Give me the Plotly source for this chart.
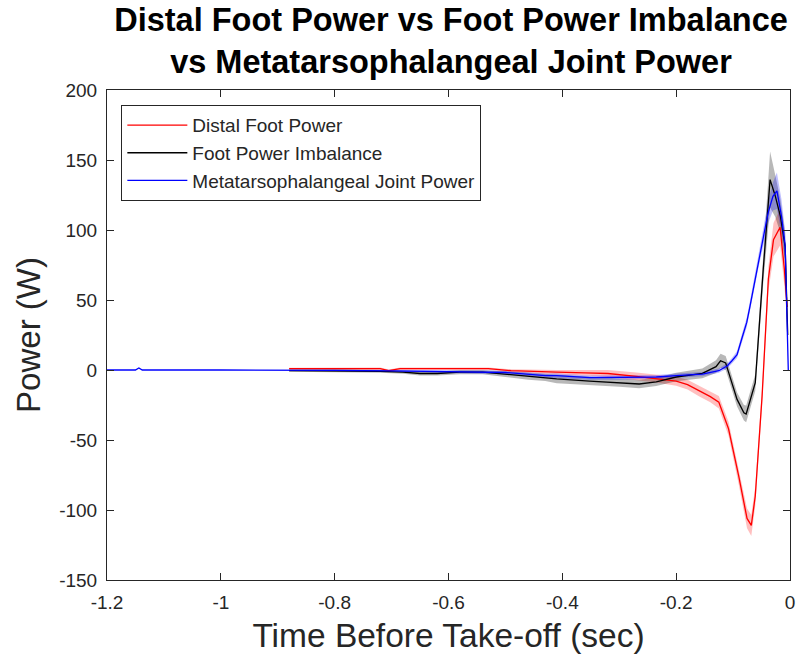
import plotly.graph_objects as go

# ---------------- data ----------------
t_red = [-0.88, -0.80, -0.72, -0.705, -0.685, -0.60, -0.53, -0.49, -0.45, -0.41, -0.36, -0.32,
         -0.27, -0.235, -0.20, -0.18, -0.16, -0.14, -0.125, -0.108, -0.090, -0.0755, -0.068,
         -0.061, -0.049, -0.038, -0.029, -0.0174, -0.0099, -0.005]
distal = [1, 1, 1, -0.5, 1, 1, 1, -0.5, -1.2, -1.5, -2, -2.5,
          -4.5, -6, -8, -10.5, -15, -19, -23, -42, -76, -106, -111,
          -90, -18.5, 65, 93, 102, 72, 45]
distal_sd = [0.6, 0.8, 0.8, 0.8, 0.8, 0.8, 0.8, 1, 1.2, 1.5, 2, 2.5,
             2.8, 3, 3.2, 3.5, 3.8, 4, 4.5, 5, 6, 7, 7.5,
             7, 6, 9, 12, 13, 12, 10]

t_blk = [-0.88, -0.80, -0.72, -0.68, -0.65, -0.62, -0.58, -0.54, -0.50, -0.46, -0.43, -0.41,
         -0.352, -0.30, -0.265, -0.235, -0.20, -0.154, -0.13, -0.122, -0.113, -0.108, -0.093,
         -0.081, -0.077, -0.071, -0.061, -0.047, -0.035, -0.026, -0.017, -0.0085, -0.004]
imbalance = [-0.5, -0.5, -1, -1.5, -2.5, -2.5, -1.5, -1.5, -3, -4.5, -5.4, -6.4,
             -8, -9, -10, -8.5, -5, -2.4, 2.4, 6.6, 5, -1.5, -21,
             -30.5, -31.4, -23, -9, 72, 136, 124.5, 110, 88, 25]
imbalance_sd = [0.8, 1, 1, 1.2, 1.5, 1.5, 1.5, 1.5, 2, 2.5, 2.5, 3,
                3, 3, 3, 3, 3, 3.5, 4.5, 5, 5, 5, 5,
                5.5, 6, 6, 6, 10, 20, 15, 12, 10, 8]

t_blue = [-1.2, -1.15, -1.144, -1.138, -1.0, -0.9, -0.8, -0.7, -0.6, -0.5, -0.43, -0.41,
          -0.352, -0.30, -0.265, -0.235, -0.20, -0.154, -0.125, -0.11, -0.102, -0.093, -0.085,
          -0.076, -0.071, -0.066, -0.061, -0.056, -0.051, -0.047, -0.042, -0.038, -0.030,
          -0.023, -0.015, -0.0085, -0.0058, -0.003]
mtp = [0, 0, 1.5, 0, 0, 0, -0.3, -0.6, -1, -1.8, -4, -4,
       -5.5, -5.5, -5, -5, -4, -3, -0.5, 3, 6.6, 11, 22,
       34, 44, 55, 66, 77, 87, 96, 105, 113, 124,
       128, 110, 89, 53, 0]
mtp_sd = [0, 0, 0, 0, 0, 0.3, 0.5, 0.7, 1, 1.2, 1.5, 1.5,
          1.5, 1.5, 1.5, 1.5, 1.5, 1.5, 1.5, 2, 2, 2.5, 3,
          3.5, 3.8, 4, 4.5, 5, 5.5, 6, 7, 8, 10,
          13, 12, 10, 8, 5]

series = [
    ("Distal Foot Power", t_red, distal, distal_sd, "rgb(255,0,0)", "rgba(255,0,0,0.25)"),
    ("Foot Power Imbalance", t_blk, imbalance, imbalance_sd, "rgb(0,0,0)", "rgba(0,0,0,0.28)"),
    ("Metatarsophalangeal Joint Power", t_blue, mtp, mtp_sd, "rgb(0,0,255)", "rgba(0,0,255,0.25)"),
]

x_ticks = [-1.2, -1, -0.8, -0.6, -0.4, -0.2, 0]
x_ticktext = ["-1.2", "-1", "-0.8", "-0.6", "-0.4", "-0.2", "0"]
y_ticks = [-150, -100, -50, 0, 50, 100, 150, 200]
y_ticktext = ["-150", "-100", "-50", "0", "50", "100", "150", "200"]

FONT = "Liberation Sans, Arial"

# ---------------- figure ----------------
fig = go.Figure()

# shaded bands first
for name, t, v, sd, col, fcol in series:
    upper = [a + b for a, b in zip(v, sd)]
    lower = [a - b for a, b in zip(v, sd)]
    fig.add_trace(go.Scatter(
        x=list(t) + list(t)[::-1], y=upper + lower[::-1],
        fill="toself", fillcolor=fcol, line=dict(width=0),
        mode="lines", hoverinfo="skip", showlegend=False))

for name, t, v, sd, col, fcol in series:
    fig.add_trace(go.Scatter(x=t, y=v, mode="lines", name=name,
                             line=dict(color=col, width=1.3)))

axis_common = dict(
    showgrid=False, zeroline=False, showline=True, linecolor="#262626", linewidth=1,
    mirror="allticks", ticks="inside", ticklen=7, tickcolor="#262626", tickwidth=1,
    ticklabelstandoff=5,
    tickfont=dict(family=FONT, size=19, color="#262626"),
)

fig.update_layout(
    width=804, height=663,
    margin=dict(l=107, r=9, t=90, b=83),
    paper_bgcolor="white", plot_bgcolor="white",
    title=dict(
        text="Distal Foot Power vs Foot Power Imbalance<br>vs Metatarsophalangeal Joint Power",
        font=dict(family=FONT, size=32.5, color="black", weight="bold"),
        x=(107 + 795) / 2 / 804, xanchor="center",
        y=1 - 31 / 663, yanchor="middle", yref="container",
    ),
    xaxis=dict(range=[-1.2, 0], tickvals=x_ticks, ticktext=x_ticktext,
               title=dict(text="Time Before Take-off (sec)", standoff=11,
                          font=dict(family=FONT, size=33.5, color="#262626")),
               **axis_common),
    yaxis=dict(range=[-150, 200], tickvals=y_ticks, ticktext=y_ticktext,
               title=dict(text="Power (W)", standoff=8,
                          font=dict(family=FONT, size=33, color="#262626")),
               **axis_common),
    legend=dict(x=0.021, y=0.969, xanchor="left", yanchor="top",
                bgcolor="white", bordercolor="#262626", borderwidth=1,
                itemwidth=60,
                font=dict(family=FONT, size=19, color="#262626")),
    showlegend=True,
)

fig.write_html("out.html")
